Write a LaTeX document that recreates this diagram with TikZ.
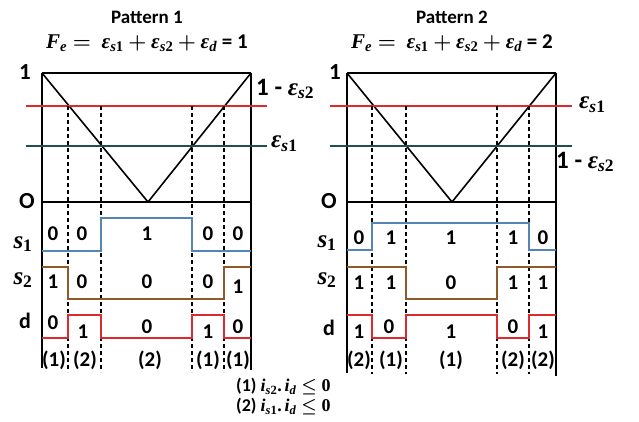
\documentclass[tikz,border=0pt]{standalone}
\usepackage{amsmath}
\usepackage{bm}
\usepackage{fontspec}
\setmainfont{Carlito}
\newfontfamily\vfam{Liberation Serif}
\newcommand{\bv}[1]{\text{\vfam\bfseries\itshape #1}}
\newcommand{\bu}[1]{\text{\vfam\bfseries #1}}
\definecolor{lred}{HTML}{DC2A2E}
\definecolor{lteal}{HTML}{1F4F50}
\definecolor{lblue}{HTML}{5585B5}
\definecolor{lbrown}{HTML}{8E5A2A}
\begin{document}
\begin{tikzpicture}[x=1pt,y=-1pt,
  frame/.style={line width=2pt,black},
  vline/.style={line width=1.6pt,black},
  dashln/.style={line width=1.1pt,dash pattern=on 4pt off 3pt},
  sig/.style={line width=1.8pt},
  axl/.style={font=\fontsize{23}{23}\selectfont\bfseries,inner sep=0pt},
  mlbl/.style={font=\fontsize{25}{25}\selectfont\bfseries,inner sep=0pt},
  flbl/.style={font=\fontsize{21}{21}\selectfont\bfseries,inner sep=0pt},
  ttl/.style={font=\fontsize{19}{19}\selectfont\bfseries,inner sep=0pt},
  num/.style={font=\fontsize{21}{21}\selectfont\bfseries,inner sep=0pt},
  leg/.style={font=\fontsize{18}{18}\selectfont\bfseries,inner sep=0pt,anchor=west}]
\useasboundingbox (0,0) rectangle (639,422);

% ================= Pattern 1 =================
\node[ttl] (t1) at (147,17) {Pattern 1};
\node[flbl] (f1) at (147,43) {$\bv{F}_{\bv{e}} \bm{=}\ \bv{ε}_{\bv{s}\bu{1}} \bm{+} \bv{ε}_{\bv{s}\bu{2}} \bm{+} \bv{ε}_{\bv{d}}$ = 1};

\coordinate (A1) at (42,73);
\coordinate (B1) at (251,73);
\coordinate (V1) at (148,202);
\draw[frame] (A1) -- (B1);
\draw[frame] (42,73) -- (42,368);
\draw[frame] (251,73) -- (251,370);
\draw[frame] (42,202) -- (251,202);
\draw[vline] (A1) -- (V1) -- (B1);
\draw[lred,line width=2pt] (26,106) -- (267,106);
\draw[lteal,line width=2pt] (26,146) -- (267,146);
\foreach \x in {68,101,192,224} \draw[dashln] (\x,106) -- (\x,372);

\node[axl] (one1) at (25,72) {1};
\node[axl] (zero1) at (27,201) {O};
\node[mlbl,anchor=west] (e21) at (256,89) {1 - $\bv{ε}_{\bv{s}\bu{2}}$};
\node[mlbl,anchor=west] (e11) at (271,144) {$\bv{ε}_{\bv{s}\bu{1}}$};
\node[mlbl] (s11) at (23,244) {$\bv{s}_{\bu{1}}$};
\node[mlbl] (s21) at (23,280) {$\bv{s}_{\bu{2}}$};
\node[axl,font=\fontsize{22}{22}\selectfont\bfseries] (d1) at (25,321) {d};

\draw[sig,lblue] (42,251) -- (101,251) -- (101,218) -- (192,218) -- (192,251) -- (251,251);
\draw[sig,lbrown] (42,267) -- (68,267) -- (68,299) -- (224,299) -- (224,267) -- (251,267);
\draw[sig,lred] (42,338) -- (68,338) -- (68,315) -- (101,315) -- (101,338) -- (192,338) -- (192,315) -- (224,315) -- (224,338) -- (251,338);

\foreach \x/\v in {53/0,82/0,147/1,208/0,238/0} \node[num] at (\x,234) {\v};
\foreach \x/\v in {53/1,82/0,147/0,208/0} \node[num] at (\x,282) {\v};
\node[num] at (238,287) {1};
\node[num] at (53,323) {0};
\node[num] at (83,332) {1};
\node[num] at (147,327) {0};
\node[num] at (208,332) {1};
\node[num] at (238,327) {0};
\foreach \x/\v in {54/(1),85/(2),150/(2),208/(1),238/(1)} \node[num] at (\x,360) {\v};

% ================= Pattern 2 =================
\node[ttl] (t2) at (452,17) {Pattern 2};
\node[flbl] (f2) at (452,43) {$\bv{F}_{\bv{e}} \bm{=}\ \bv{ε}_{\bv{s}\bu{1}} \bm{+} \bv{ε}_{\bv{s}\bu{2}} \bm{+} \bv{ε}_{\bv{d}}$ = 2};

\coordinate (A2) at (347,73);
\coordinate (B2) at (556,73);
\coordinate (V2) at (452,202);
\draw[frame] (A2) -- (B2);
\draw[frame] (347,73) -- (347,373);
\draw[frame] (556,73) -- (556,376);
\draw[frame] (347,202) -- (556,202);
\draw[vline] (A2) -- (V2) -- (B2);
\draw[lred,line width=2pt] (330,106) -- (572,106);
\draw[lteal,line width=2pt] (330,146) -- (572,146);
\foreach \x in {372,406,497,529} \draw[dashln] (\x,106) -- (\x,374);

\node[axl] (one2) at (335,72) {1};
\node[axl] (zero2) at (329,201) {O};
\node[mlbl,anchor=west] (e12) at (579,105) {$\bv{ε}_{\bv{s}\bu{1}}$};
\node[mlbl,anchor=west] (e22) at (556,162) {1 - $\bv{ε}_{\bv{s}\bu{2}}$};
\node[mlbl] (s12) at (327,243) {$\bv{s}_{\bu{1}}$};
\node[mlbl] (s22) at (327,280) {$\bv{s}_{\bu{2}}$};
\node[axl,font=\fontsize{22}{22}\selectfont\bfseries] (d2) at (329,328) {d};

\draw[sig,lblue] (347,250) -- (372,250) -- (372,223) -- (529,223) -- (529,250) -- (556,250);
\draw[sig,lbrown] (347,267) -- (406,267) -- (406,299) -- (497,299) -- (497,267) -- (556,267);
\draw[sig,lred] (347,315) -- (372,315) -- (372,338) -- (406,338) -- (406,315) -- (497,315) -- (497,338) -- (529,338) -- (529,315) -- (556,315);

\foreach \x/\v in {359/0,391/1,451/1,513/1,543/0} \node[num] at (\x,238) {\v};
\foreach \x/\v in {359/1,391/1,451/0,513/1,543/1} \node[num] at (\x,283) {\v};
\node[num] at (359,332) {1};
\node[num] at (389,327) {0};
\node[num] at (451,332) {1};
\node[num] at (513,327) {0};
\node[num] at (543,332) {1};
\foreach \x/\v in {359/(2),391/(1),451/(1),513/(2),543/(2)} \node[num] at (\x,360) {\v};

% ================= Legend =================
\node[leg] (leg1) at (236,387) {(1) $\bv{i}_{\bv{s}\bu{2}}\bu{.}\,\bv{i}_{\bv{d}} \bm{\leq} \bu{0}$};
\node[leg] (leg2) at (236,407) {(2) $\bv{i}_{\bv{s}\bu{1}}\bu{.}\,\bv{i}_{\bv{d}} \bm{\leq} \bu{0}$};
\end{tikzpicture}
\end{document}
